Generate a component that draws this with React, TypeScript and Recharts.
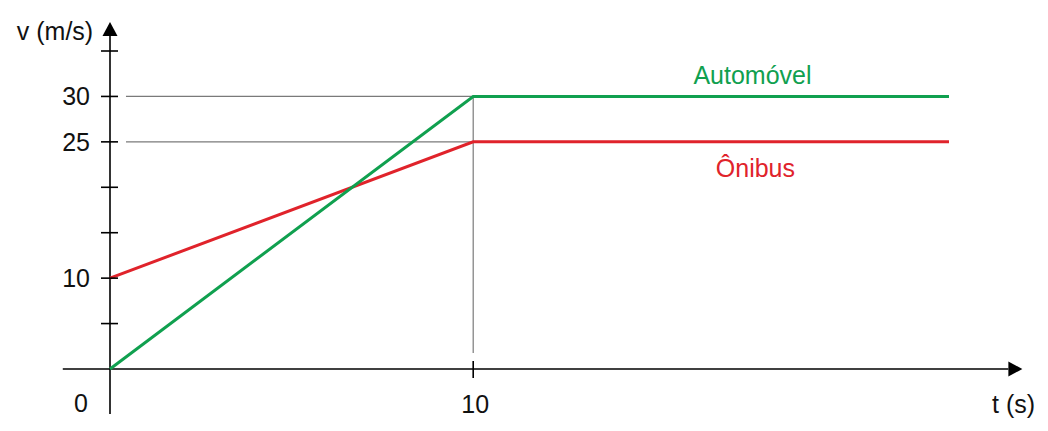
import React from 'react';
import { LineChart, Line, XAxis, YAxis, ReferenceLine, ReferenceDot } from 'recharts';

const tValues = [0, 10, 23.1];
const automovel = [0, 30, 30];
const onibus = [10, 25, 25];
const yTicks = [5, 10, 15, 20, 25, 30, 35];
const yLabeled = [10, 25, 30];
const xTicks = [0, 10];

const data = tValues.map((t, i) => ({ t, automovel: automovel[i], onibus: onibus[i] }));

const GREEN = '#10a04f';
const RED = '#e0232b';
const FONT = '"Liberation Sans", Arial, sans-serif';
const FS = 25;

const YTick = (props: any) => {
  const { x, y, payload } = props;
  const v = payload.value;
  return (
    <g>
      <line x1={x - 9} x2={x + 8} y1={y} y2={y} stroke="#000" strokeWidth={1.6} />
      {yLabeled.includes(v) && (
        <text x={x - 20} y={y + 9} textAnchor="end" fontSize={FS} fontFamily={FONT} fill="#111">
          {v}
        </text>
      )}
    </g>
  );
};

const XTick = (props: any) => {
  const { x, y, payload } = props;
  const v = payload.value;
  if (v === 0) {
    return (
      <text x={x - 29} y={y + 43} textAnchor="middle" fontSize={FS} fontFamily={FONT} fill="#111">
        0
      </text>
    );
  }
  return (
    <g>
      <line x1={x} x2={x} y1={y - 8} y2={y + 9} stroke="#000" strokeWidth={1.6} />
      <text x={x + 2} y={y + 44} textAnchor="middle" fontSize={FS} fontFamily={FONT} fill="#111">
        {v}
      </text>
    </g>
  );
};

const ArrowLine = (props: any) => {
  const { x1, y1, x2, y2 } = props;
  const dx = x2 - x1;
  const dy = y2 - y1;
  const len = Math.sqrt(dx * dx + dy * dy);
  const ux = dx / len;
  const uy = dy / len;
  const L = 14;
  const W = 7.5;
  const bx = x2 - ux * L;
  const by = y2 - uy * L;
  const pts = `${x2},${y2} ${bx - uy * W},${by + ux * W} ${bx + uy * W},${by - ux * W}`;
  return (
    <g>
      <line x1={x1} y1={y1} x2={bx} y2={by} stroke="#000" strokeWidth={1.6} />
      <polygon points={pts} fill="#000" />
    </g>
  );
};

export default function App() {
  return (
    <div style={{ position: 'absolute', left: 0, top: 0, width: 1048, height: 431, background: '#fff' }}>
      <LineChart width={1048} height={431} data={data} margin={{ top: 51, right: 30, bottom: 0, left: 0 }}>
        <XAxis
          type="number"
          dataKey="t"
          domain={[0, 25]}
          ticks={xTicks}
          axisLine={false}
          tickLine={false}
          tickSize={0}
          tickMargin={0}
          height={62}
          tick={<XTick />}
          interval={0}
          label={{
            content: (p: any) => {
              const vb = p.viewBox || {};
              return (
                <text x={992} y={(vb.y ?? 369) + 44} fontSize={FS} fontFamily={FONT} fill="#111">
                  t (s)
                </text>
              );
            },
          }}
        />
        <YAxis
          type="number"
          domain={[0, 35]}
          ticks={yTicks}
          axisLine={false}
          tickLine={false}
          tickSize={0}
          tickMargin={0}
          width={110}
          tick={<YTick />}
          interval={0}
          label={{
            content: (p: any) => (
              <text x={55} y={40} textAnchor="middle" fontSize={FS} fontFamily={FONT} fill="#111">
                v (m/s)
              </text>
            ),
          }}
        />
        <ReferenceLine segment={[{ x: 0.44, y: 30 }, { x: 10, y: 30 }]} stroke="#7a7a7a" strokeWidth={1.2} ifOverflow="visible" />
        <ReferenceLine segment={[{ x: 0.44, y: 25 }, { x: 10, y: 25 }]} stroke="#7a7a7a" strokeWidth={1.2} ifOverflow="visible" />
        <ReferenceLine segment={[{ x: 10, y: 30 }, { x: 10, y: 1.76 }]} stroke="#7a7a7a" strokeWidth={1.2} ifOverflow="visible" />
        <ReferenceLine segment={[{ x: -1.3, y: 0 }, { x: 25.12, y: 0 }]} ifOverflow="visible" shape={<ArrowLine />} />
        <ReferenceLine segment={[{ x: 0, y: -4.95 }, { x: 0, y: 38.2 }]} ifOverflow="visible" shape={<ArrowLine />} />
        <Line type="linear" dataKey="onibus" stroke={RED} strokeWidth={3} dot={false} isAnimationActive={false} />
        <Line type="linear" dataKey="automovel" stroke={GREEN} strokeWidth={3} dot={false} isAnimationActive={false} />
        <ReferenceDot
          x={17.69}
          y={30}
          r={0}
          fill="none"
          stroke="none"
          ifOverflow="visible"
          label={{ value: 'Automóvel', position: 'top', offset: 12, fill: GREEN, fontSize: FS, fontFamily: FONT }}
        />
        <ReferenceDot
          x={17.77}
          y={25}
          r={0}
          fill="none"
          stroke="none"
          ifOverflow="visible"
          label={{ value: 'Ônibus', position: 'bottom', offset: 17, fill: RED, fontSize: FS, fontFamily: FONT }}
        />
      </LineChart>
    </div>
  );
}
